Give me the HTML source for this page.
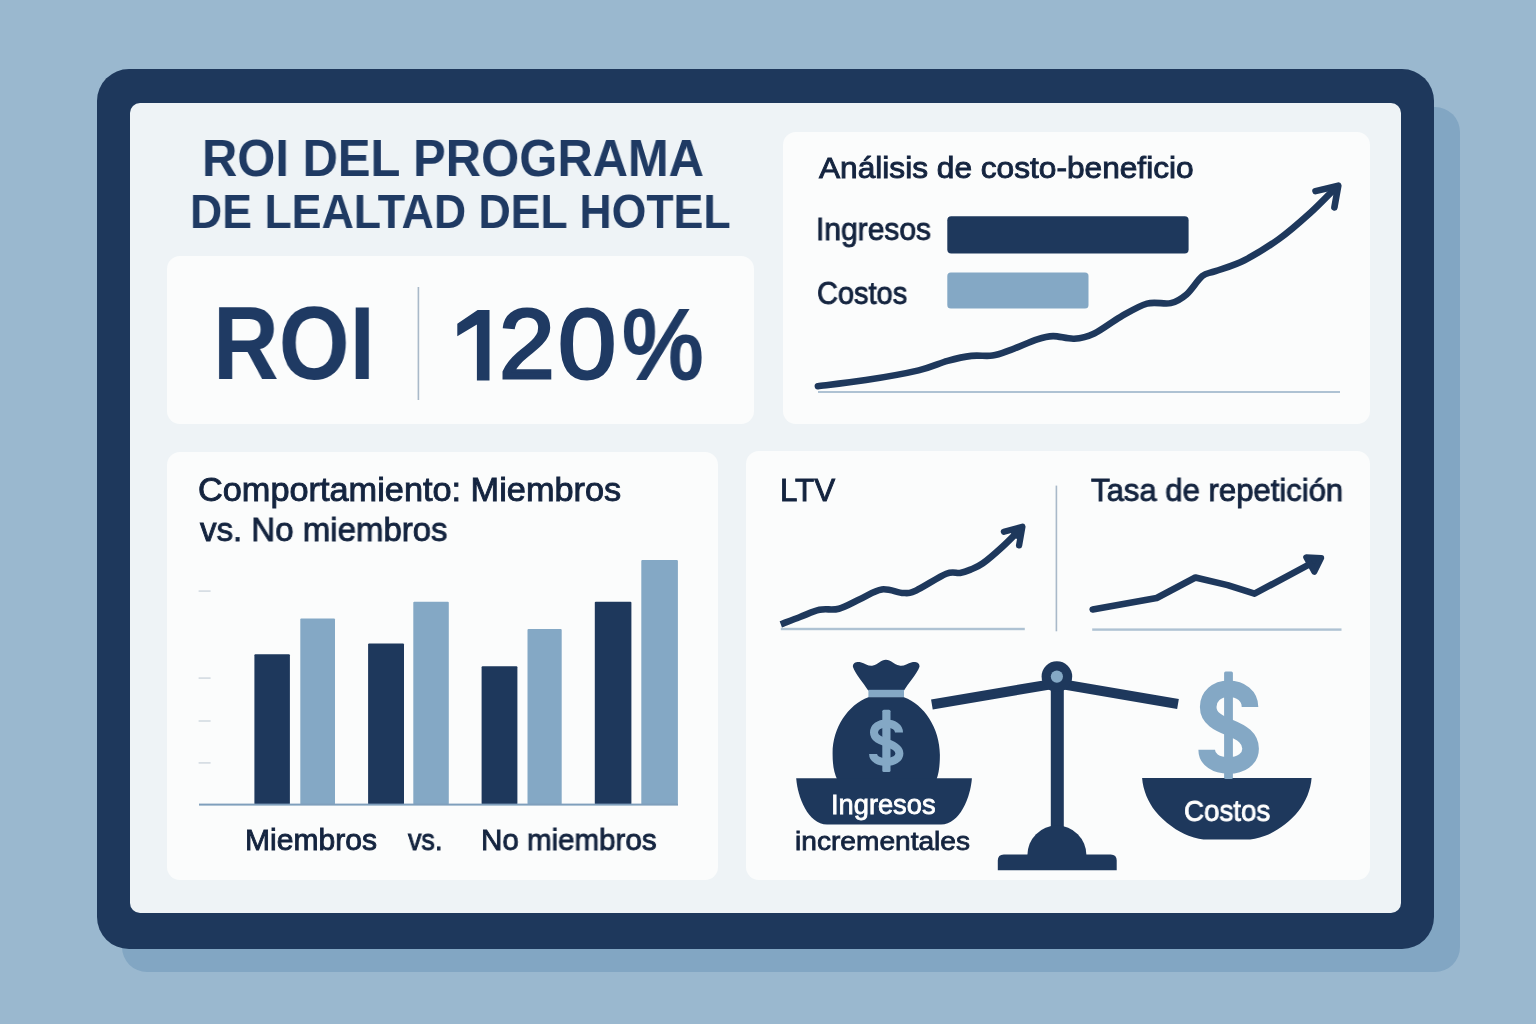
<!DOCTYPE html>
<html lang="es">
<head>
<meta charset="utf-8">
<title>ROI del programa de lealtad del hotel</title>
<style>
  html,body{margin:0;padding:0;}
  body{width:1536px;height:1024px;overflow:hidden;background:#9ab8cf;position:relative;
       font-family:"Liberation Sans",sans-serif;}
  .abs{position:absolute;box-sizing:border-box;}
  #shadow{left:122px;top:107px;width:1338px;height:865px;border-radius:25px;background:#82a6c3;}
  #frame{left:97px;top:69px;width:1337px;height:880px;border-radius:32px;background:#1e385c;}
  #panel{left:130px;top:102.6px;width:1271.3px;height:810.5px;border-radius:10px;background:#eef3f6;}
  .card{background:#fbfcfc;border-radius:13px;}
  #c-roi{left:166.8px;top:255.8px;width:587.3px;height:167.9px;}
  #c-cb{left:782.8px;top:131.8px;width:586.9px;height:291.8px;}
  #c-bar{left:166.8px;top:451.7px;width:550.8px;height:428.1px;}
  #c-ltv{left:746.4px;top:450.7px;width:623.2px;height:429.6px;}
  .t{position:absolute;white-space:nowrap;line-height:1;transform-origin:0 0;margin:0;padding:0;will-change:transform;}
  #gfx{position:absolute;left:0;top:0;width:1536px;height:1024px;}
</style>
</head>
<body>
<div id="shadow" class="abs"></div>
<div id="frame" class="abs"></div>
<div id="panel" class="abs"></div>
<div id="c-roi" class="abs card"></div>
<div id="c-cb" class="abs card"></div>
<div id="c-bar" class="abs card"></div>
<div id="c-ltv" class="abs card"></div>

<svg id="gfx" viewBox="0 0 1536 1024" width="1536" height="1024">
<path d="M489.5,310 L489.5,380.4 L476.9,380.4 L476.9,324.6 L457.3,336.2 L457.3,323.7 L477.6,310 Z" fill="#1f3a63"/>
<rect x="417.6" y="287" width="1.6" height="113" fill="#a9b9c9"/>
<rect x="1055.6" y="485.6" width="1.6" height="145.7" fill="#a9b9c9"/>
<rect x="947.3" y="216.2" width="241.3" height="37.3" rx="4" fill="#1e385c"/>
<rect x="947.3" y="272.5" width="141.2" height="36.1" rx="3.5" fill="#84a8c5"/>
<rect x="818" y="391" width="522" height="2" fill="#aec2d3"/>
<path d="M817.9,386.2 C825.9,385.2 849.1,382.7 865.9,380.1 C882.7,377.5 905.0,373.6 918.6,370.4 C932.2,367.2 938.8,363.3 947.6,360.9 C956.4,358.5 963.9,356.8 971.4,355.9 C978.9,355.0 985.9,356.6 992.5,355.6 C999.1,354.6 1003.4,352.5 1010.9,349.8 C1018.4,347.1 1030.3,341.6 1037.3,339.3 C1044.3,337.0 1046.9,336.2 1053.1,336.1 C1059.2,336.0 1067.3,339.1 1074.2,338.7 C1081.1,338.2 1086.6,337.0 1094.3,333.4 C1102.0,329.8 1111.8,321.8 1120.6,316.8 C1129.4,311.8 1138.7,305.9 1147.0,303.6 C1155.3,301.3 1164.1,304.6 1170.7,303.1 C1177.3,301.6 1181.2,298.9 1186.5,294.4 C1191.8,289.9 1197.5,279.9 1202.3,276.0 C1207.1,272.1 1208.5,273.8 1215.5,271.2 C1222.5,268.6 1234.0,265.6 1244.5,260.2 C1255.0,254.8 1267.8,247.0 1278.8,239.1 C1289.8,231.2 1301.3,220.9 1310.4,212.7 C1319.5,204.5 1329.2,194.1 1333.6,189.8 C1338.0,185.5 1336.3,187.4 1336.8,186.9" fill="none" stroke="#1e385c" stroke-width="6.6" stroke-linecap="round" stroke-linejoin="round"/>
<path d="M1315.5,191.1 L1338.3,185.7 L1334.4,207.4" fill="none" stroke="#1e385c" stroke-width="6.6" stroke-linecap="round" stroke-linejoin="round"/>
<path d="M1338.3,185.7 L1327,188.4 L1336.2,197 Z" fill="#1e385c"/>
<rect x="198.6" y="590.3" width="12" height="1.6" fill="#d3dbe2"/>
<rect x="198.6" y="677.3" width="12" height="1.6" fill="#d3dbe2"/>
<rect x="198.6" y="720.2" width="12" height="1.6" fill="#d3dbe2"/>
<rect x="198.6" y="762.1" width="12" height="1.6" fill="#d3dbe2"/>
<rect x="254.4" y="654.3" width="35.5" height="150.2" rx="1" fill="#1e385c"/>
<rect x="300.3" y="618.5" width="34.7" height="186.0" rx="1" fill="#84a8c5"/>
<rect x="368.1" y="643.4" width="35.9" height="161.1" rx="1" fill="#1e385c"/>
<rect x="413.3" y="601.8" width="35.5" height="202.7" rx="1" fill="#84a8c5"/>
<rect x="481.6" y="666.3" width="35.8" height="138.2" rx="1" fill="#1e385c"/>
<rect x="527.5" y="629.1" width="34.2" height="175.4" rx="1" fill="#84a8c5"/>
<rect x="594.8" y="601.8" width="36.6" height="202.7" rx="1" fill="#1e385c"/>
<rect x="641.3" y="560" width="36.6" height="244.5" rx="1" fill="#84a8c5"/>
<rect x="199" y="803.6" width="479" height="2" fill="#7f9fbc"/>
<rect x="780.8" y="627.8" width="244" height="2.4" fill="#aec2d3"/>
<path d="M780.8,624.4 C784.0,623.2 793.5,619.4 800.0,617.0 C806.5,614.6 813.0,611.2 819.5,609.8 C826.0,608.4 832.1,610.5 838.9,608.7 C845.7,606.9 853.1,602.2 860.3,599.0 C867.4,595.8 874.6,590.4 881.8,589.4 C889.0,588.4 897.6,592.8 903.3,593.0 C909.0,593.2 909.0,593.6 916.2,590.4 C923.4,587.2 939.0,576.6 946.3,573.7 C953.6,570.8 956.0,573.6 960.0,572.9 C964.0,572.2 966.7,571.2 970.5,569.6 C974.3,568.0 977.6,567.1 982.9,563.3 C988.2,559.5 996.4,552.3 1002.2,547.0 C1008.1,541.7 1015.4,534.1 1018.0,531.5" fill="none" stroke="#1e385c" stroke-width="6.6" stroke-linecap="butt" stroke-linejoin="round"/>
<path d="M1003.9,531.7 L1022.4,526.7 L1019.1,545.4" fill="none" stroke="#1e385c" stroke-width="6.3" stroke-linecap="round" stroke-linejoin="round"/>
<path d="M1022.4,526.7 L1009.5,530.2 L1013,537 L1020,540.5 Z" fill="#1e385c"/>
<rect x="1092.2" y="628.4" width="249.3" height="2.4" fill="#aec2d3"/>
<path d="M1092.7,609.4 L1156.7,598 L1195.4,577.5 L1227.6,585.1 L1254.5,593.7 L1313.5,562.2" fill="none" stroke="#1e385c" stroke-width="6.6" stroke-linecap="round" stroke-linejoin="round"/>
<path d="M1306.2,557.3 L1321.2,558 L1314.3,571.8 Z" fill="#1e385c" stroke="#1e385c" stroke-width="6" stroke-linejoin="round"/>
<path d="M931.9,704.5 L1057,683.2 L1178,704" fill="none" stroke="#1e385c" stroke-width="10" stroke-linejoin="miter"/>
<rect x="1050.8" y="676" width="13" height="160" fill="#1e385c"/>
<circle cx="1056.9" cy="676.6" r="15.3" fill="#1e385c"/>
<circle cx="1056.9" cy="676.6" r="6.1" fill="#84a8c5"/>
<path d="M1027.4,855 A29.5,29.5 0 0 1 1086.4,855 Z" fill="#1e385c"/>
<path d="M997.8,870.2 L997.8,860.4 Q997.8,854.4 1003.8,854.4 L1110.7,854.4 Q1116.7,854.4 1116.7,860.4 L1116.7,870.2 Z" fill="#1e385c"/>
<path d="M852.9,666.7 C852.6,662.6 857,661.4 860.5,662.2 C865.5,663.4 868.5,666.6 873,665.6 C878,664.4 881,659.8 885.9,659.8 C890.8,659.8 894,664.4 899.4,665.6 C903.8,666.6 907,663.4 912,662.2 C915.5,661.4 919.8,662.6 919.5,666.7 C917,674 909,682 904,690.5 L868.2,690.5 C863,682 855.2,674 852.9,666.7 Z" fill="#1e385c"/>
<rect x="868.4" y="689.8" width="35.6" height="8" fill="#84a8c5"/>
<path d="M868.4,697.2 C848,704.5 832.6,728 832.6,753 C832.5,765 834,773 837.4,780 L936.3,780 C939,773 939.9,765 939.9,754.7 C939.8,728 924,704.5 904,697.2 Z" fill="#1e385c"/>
<path d="M796.2,778.3 L971.9,778.3 C970.6,797 960,824.5 941,824.5 L827,824.5 C808,824.5 797.5,797 796.2,778.3 Z" fill="#1e385c"/>
<path d="M1142.1,778 C1143,790 1148,802 1155.4,811.25 C1164,822 1178,832 1188.6,835.7 C1196,838.3 1202,839.6 1208.1,839.6 L1245.6,839.6 C1251.7,839.6 1257.7,838.3 1265.1,835.7 C1275.7,832 1289.7,822 1298.3,811.25 C1305.7,802 1310.7,790 1311.6,778 Z" fill="#1e385c"/>
<rect x="1224.1" y="671.6" width="8.8" height="107.4" rx="1.5" fill="#84a8c5"/><path d="M1250.0,706.9 C1250.0,696.1 1240.9,688.7 1228.6,688.7 C1216.6,688.7 1208.2,696.6 1208.2,706.9 C1208.2,718.0 1218.0,723.0 1230.0,727.7 C1241.9,732.5 1250.6,738.0 1250.6,748.7 C1250.6,759.0 1240.9,765.5 1228.6,765.5 C1216.1,765.5 1206.7,759.5 1206.7,749.7" fill="none" stroke="#84a8c5" stroke-width="16.6" stroke-linecap="butt"/>
<rect x="882.3" y="709.8" width="8.2" height="62.3" rx="1.5" fill="#84a8c5"/><path d="M899.0,732.5 C899.0,727.1 893.6,723.4 886.2,723.4 C879.0,723.4 874.0,727.4 874.0,732.5 C874.0,738.2 879.9,740.7 887.1,743.0 C894.2,745.4 899.4,748.2 899.4,753.6 C899.4,758.7 893.6,762.0 886.2,762.0 C878.7,762.0 873.1,759.0 873.1,754.1" fill="none" stroke="#84a8c5" stroke-width="8.0" stroke-linecap="butt"/>
</svg>

<div class="t" style="left:201.56px;top:132.52px;font-size:51.71px;font-weight:700;color:#1f3a63;transform:scaleX(0.9464);">ROI DEL PROGRAMA</div>
<div class="t" style="left:189.82px;top:187.04px;font-size:48.86px;font-weight:700;color:#1f3a63;transform:scaleX(0.9136);">DE LEALTAD DEL HOTEL</div>
<div class="t" style="left:212.73px;top:291.98px;font-size:103.86px;font-weight:700;color:#1f3a63;transform:scaleX(0.8770);">ROI</div>
<div class="t" style="left:498.91px;top:295.12px;font-size:98.86px;font-weight:400;color:#1f3a63;transform:scaleX(1.0150);-webkit-text-stroke:3.0px #1f3a63;">2</div>
<div class="t" style="left:557.75px;top:295.16px;font-size:98.59px;font-weight:400;color:#1f3a63;transform:scaleX(1.0622);-webkit-text-stroke:3.0px #1f3a63;">0</div>
<div class="t" style="left:622.35px;top:295.16px;font-size:98.59px;font-weight:400;color:#1f3a63;transform:scaleX(0.9289);-webkit-text-stroke:3.0px #1f3a63;">%</div>
<div class="t" style="left:818.89px;top:153.54px;font-size:28.84px;font-weight:400;color:#14243f;transform:scaleX(1.0975);-webkit-text-stroke:0.9px #14243f;">Análisis de costo-beneficio</div>
<div class="t" style="left:815.73px;top:214.28px;font-size:31.74px;font-weight:400;color:#14243f;transform:scaleX(0.9451);-webkit-text-stroke:0.9px #14243f;">Ingresos</div>
<div class="t" style="left:816.57px;top:278.17px;font-size:31.16px;font-weight:400;color:#14243f;transform:scaleX(0.9299);-webkit-text-stroke:0.9px #14243f;">Costos</div>
<div class="t" style="left:198.36px;top:474.45px;font-size:32.61px;font-weight:400;color:#14243f;transform:scaleX(1.0519);-webkit-text-stroke:0.9px #14243f;">Comportamiento: Miembros</div>
<div class="t" style="left:200.05px;top:512.93px;font-size:33.33px;font-weight:400;color:#14243f;transform:scaleX(0.9902);-webkit-text-stroke:0.9px #14243f;">vs. No miembros</div>
<div class="t" style="left:245.15px;top:824.70px;font-size:29.71px;font-weight:400;color:#14243f;transform:scaleX(1.0121);-webkit-text-stroke:0.9px #14243f;">Miembros</div>
<div class="t" style="left:408.31px;top:824.70px;font-size:29.71px;font-weight:400;color:#14243f;transform:scaleX(0.9047);-webkit-text-stroke:0.9px #14243f;">vs.</div>
<div class="t" style="left:481.48px;top:824.70px;font-size:29.71px;font-weight:400;color:#14243f;transform:scaleX(0.9944);-webkit-text-stroke:0.9px #14243f;">No miembros</div>
<div class="t" style="left:779.84px;top:475.35px;font-size:31.30px;font-weight:400;color:#14243f;transform:scaleX(1.0023);-webkit-text-stroke:0.9px #14243f;">LTV</div>
<div class="t" style="left:1091.03px;top:475.35px;font-size:31.30px;font-weight:400;color:#14243f;transform:scaleX(0.9929);-webkit-text-stroke:0.9px #14243f;">Tasa de repetición</div>
<div class="t" style="left:831.15px;top:791.14px;font-size:27.25px;font-weight:400;color:#ffffff;transform:scaleX(0.9977);-webkit-text-stroke:0.8px #ffffff;">Ingresos</div>
<div class="t" style="left:795.34px;top:827.72px;font-size:26.44px;font-weight:400;color:#14243f;transform:scaleX(1.0638);-webkit-text-stroke:0.8px #14243f;">incrementales</div>
<div class="t" style="left:1184.40px;top:796.51px;font-size:28.70px;font-weight:400;color:#ffffff;transform:scaleX(0.9657);-webkit-text-stroke:0.8px #ffffff;">Costos</div>
</body>
</html>
